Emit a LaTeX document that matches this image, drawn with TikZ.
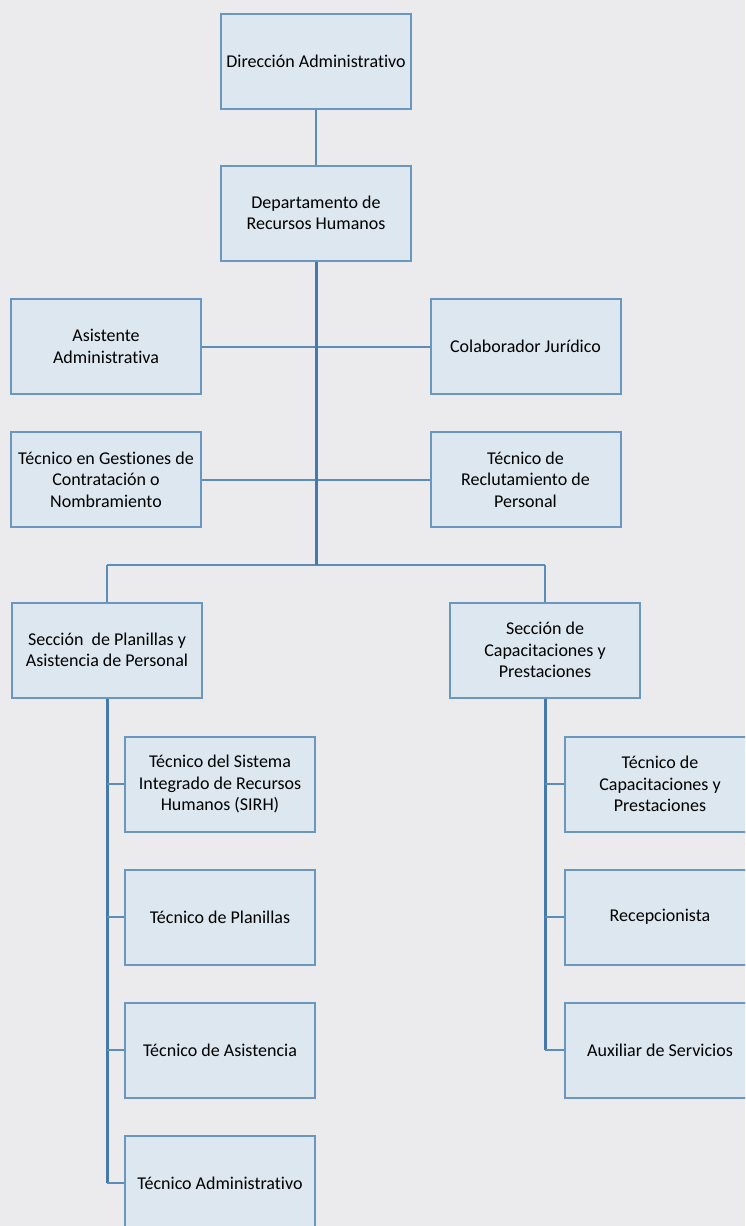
\documentclass[tikz,border=0pt]{standalone}
\usepackage{fontspec}
\setmainfont[Ligatures=NoCommon]{Carlito}
\usetikzlibrary{backgrounds}
\definecolor{bg}{HTML}{EBEBED}
\definecolor{boxfill}{HTML}{DCE7EF}
\definecolor{boxline}{HTML}{6A97C0}
\definecolor{link}{HTML}{5C8CB9}
\definecolor{trunk}{HTML}{4479AB}
\tikzset{
  unitbox/.style={draw=boxline, line width=2pt, fill=boxfill,
    minimum width=190pt, minimum height=95pt, align=center,
    font=\fontsize{18}{21.5}\selectfont, inner sep=2pt},
  link/.style={draw=link, line width=2pt},
  trunk/.style={draw=trunk, line width=3pt}
}
\begin{document}
\begin{tikzpicture}[x=1pt, y=-1pt]
\useasboundingbox (0,0) rectangle (745,1226);
\clip (0,0) rectangle (745,1226);

% boxes
\node[unitbox] (dir) at (316,61.5) {Dirección Administrativo};
\node[unitbox] (rrhh) at (316,213) {Departamento de\\Recursos Humanos};
\node[unitbox] (asis) at (106,346.5) {Asistente\\Administrativa};
\node[unitbox] (jur) at (525.5,346.5) {Colaborador Jurídico};
\node[unitbox] (gest) at (106,479.5) {Técnico en Gestiones de\\Contratación o\\Nombramiento};
\node[unitbox] (recl) at (525.5,479.5) {Técnico de\\Reclutamiento de\\Personal};
\node[unitbox] (plan) at (107,650) {Sección~~de Planillas y\\Asistencia de Personal};
\node[unitbox] (cap) at (545,650) {Sección de\\Capacitaciones y\\Prestaciones};

\node[unitbox] (sirh) at (220,784) {Técnico del Sistema\\Integrado de Recursos\\Humanos (SIRH)};
\node[unitbox] (tplan) at (220,917) {Técnico de Planillas};
\node[unitbox] (tasis) at (220,1050) {Técnico de Asistencia};
\node[unitbox] (tadm) at (220,1183) {Técnico Administrativo};

\node[unitbox] (tcap) at (660,784) {Técnico de\\Capacitaciones y\\Prestaciones};
\node[unitbox] (recep) at (660,917) {Recepcionista};
\node[unitbox] (aux) at (660,1050) {Auxiliar de Servicios};

% joints of the connector tree
\coordinate (busC) at (316,564.5);
\coordinate (busL) at (plan.north |- busC);
\coordinate (busR) at (cap.north |- busC);

\begin{scope}[on background layer]
  \fill[bg] (0,0) rectangle (745,1226);
  % connectors, kept behind the boxes
  \draw[link] (dir.south) -- (rrhh.north);
  \draw[link] (asis.east) -- (jur.west);
  \draw[link] (gest.east) -- (recl.west);
  \draw[link] (busL) -- (busR);
  \draw[link] (busL) -- (plan.north);
  \draw[link] (busR) -- (cap.north);
  \draw[trunk] (rrhh.south) -- (busC);
  \draw[trunk] (plan.south) -- (plan.south |- tadm.west);
  \draw[link] (plan.south |- sirh.west) -- (sirh.west);
  \draw[link] (plan.south |- tplan.west) -- (tplan.west);
  \draw[link] (plan.south |- tasis.west) -- (tasis.west);
  \draw[link] (plan.south |- tadm.west) -- (tadm.west);
  \draw[trunk] (cap.south) -- (cap.south |- aux.west);
  \draw[link] (cap.south |- tcap.west) -- (tcap.west);
  \draw[link] (cap.south |- recep.west) -- (recep.west);
  \draw[link] (cap.south |- aux.west) -- (aux.west);
\end{scope}
\end{tikzpicture}
\end{document}
